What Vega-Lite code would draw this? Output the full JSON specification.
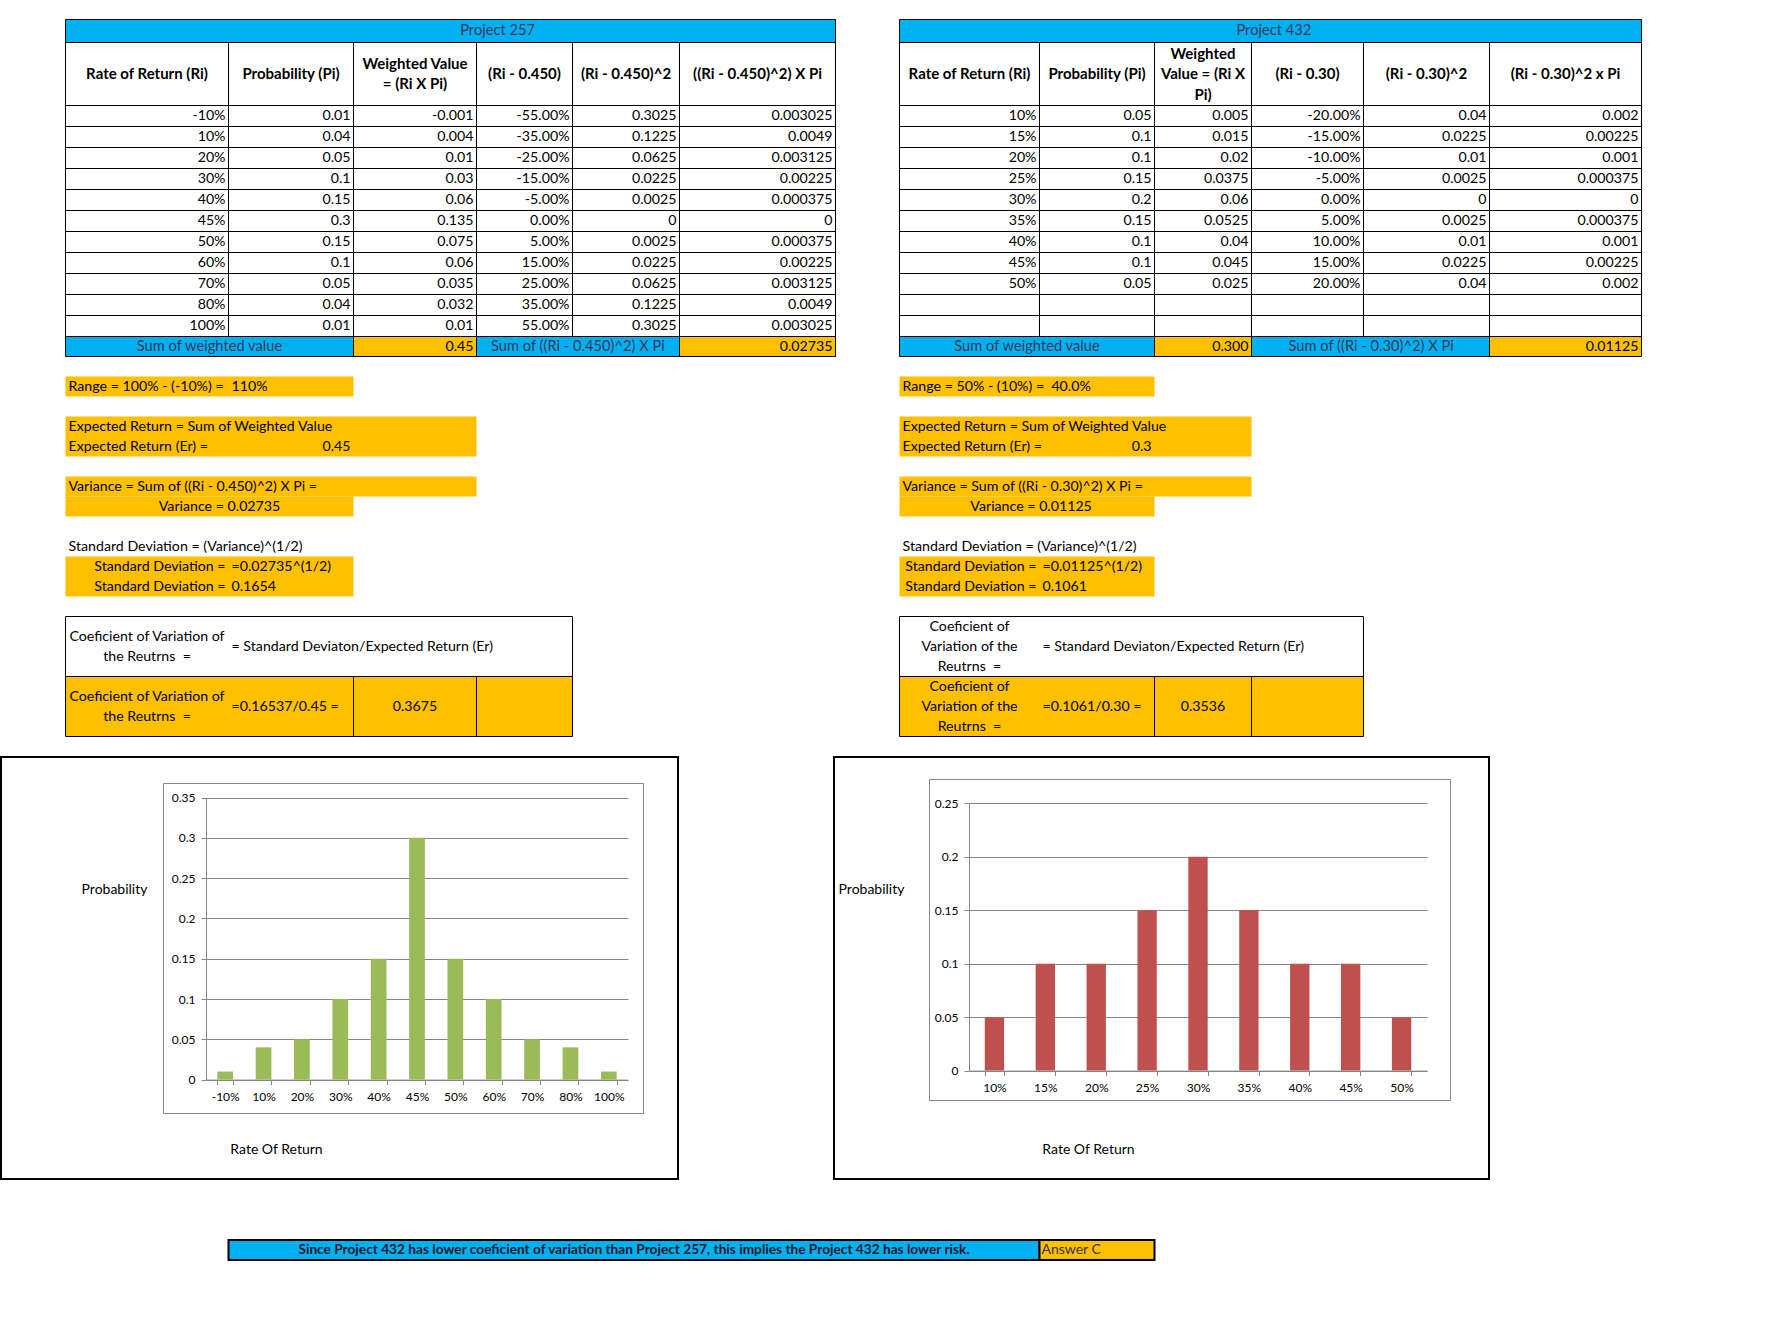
{
"$schema": "https://vega.github.io/schema/vega-lite/v6.json",
"padding": 0,
"background": "#ffffff",
"spacing": 0,
"config": {"view": {"stroke": null}, "font": "Lato"},
"datasets": {
"cells": [
{"c":2,"ce":8,"r":2,"re":3,"k":"title"},{"c":9,"ce":15,"r":2,"re":3,"k":"title"},
{"c":2,"ce":3,"r":3,"re":15,"k":"grid"},{"c":3,"ce":4,"r":3,"re":15,"k":"grid"},{"c":4,"ce":5,"r":3,"re":15,"k":"grid"},{"c":5,"ce":6,"r":3,"re":15,"k":"grid"},{"c":6,"ce":7,"r":3,"re":15,"k":"grid"},{"c":7,"ce":8,"r":3,"re":15,"k":"grid"},
{"c":2,"ce":8,"r":3,"re":4,"k":"grid"},{"c":2,"ce":8,"r":4,"re":5,"k":"grid"},{"c":2,"ce":8,"r":5,"re":6,"k":"grid"},{"c":2,"ce":8,"r":6,"re":7,"k":"grid"},{"c":2,"ce":8,"r":7,"re":8,"k":"grid"},{"c":2,"ce":8,"r":8,"re":9,"k":"grid"},{"c":2,"ce":8,"r":9,"re":10,"k":"grid"},{"c":2,"ce":8,"r":10,"re":11,"k":"grid"},{"c":2,"ce":8,"r":11,"re":12,"k":"grid"},{"c":2,"ce":8,"r":12,"re":13,"k":"grid"},{"c":2,"ce":8,"r":13,"re":14,"k":"grid"},{"c":2,"ce":8,"r":14,"re":15,"k":"grid"},
{"c":9,"ce":10,"r":3,"re":15,"k":"grid"},{"c":10,"ce":11,"r":3,"re":15,"k":"grid"},{"c":11,"ce":12,"r":3,"re":15,"k":"grid"},{"c":12,"ce":13,"r":3,"re":15,"k":"grid"},{"c":13,"ce":14,"r":3,"re":15,"k":"grid"},{"c":14,"ce":15,"r":3,"re":15,"k":"grid"},
{"c":9,"ce":15,"r":3,"re":4,"k":"grid"},{"c":9,"ce":15,"r":4,"re":5,"k":"grid"},{"c":9,"ce":15,"r":5,"re":6,"k":"grid"},{"c":9,"ce":15,"r":6,"re":7,"k":"grid"},{"c":9,"ce":15,"r":7,"re":8,"k":"grid"},{"c":9,"ce":15,"r":8,"re":9,"k":"grid"},{"c":9,"ce":15,"r":9,"re":10,"k":"grid"},{"c":9,"ce":15,"r":10,"re":11,"k":"grid"},{"c":9,"ce":15,"r":11,"re":12,"k":"grid"},{"c":9,"ce":15,"r":12,"re":13,"k":"grid"},{"c":9,"ce":15,"r":13,"re":14,"k":"grid"},{"c":9,"ce":15,"r":14,"re":15,"k":"grid"},
{"c":2,"ce":4,"r":15,"re":16,"k":"sumlabel"},{"c":4,"ce":5,"r":15,"re":16,"k":"sumvalue"},{"c":5,"ce":7,"r":15,"re":16,"k":"sumlabel"},{"c":7,"ce":8,"r":15,"re":16,"k":"sumvalue"},
{"c":9,"ce":11,"r":15,"re":16,"k":"sumlabel"},{"c":11,"ce":12,"r":15,"re":16,"k":"sumvalue"},{"c":12,"ce":14,"r":15,"re":16,"k":"sumlabel"},{"c":14,"ce":15,"r":15,"re":16,"k":"sumvalue"},
{"c":2,"ce":4,"r":17,"re":18,"k":"note"},{"c":2,"ce":5,"r":19,"re":21,"k":"note"},{"c":2,"ce":5,"r":22,"re":23,"k":"note"},{"c":2,"ce":4,"r":23,"re":24,"k":"note"},{"c":2,"ce":4,"r":26,"re":28,"k":"note"},
{"c":9,"ce":11,"r":17,"re":18,"k":"note"},{"c":9,"ce":12,"r":19,"re":21,"k":"note"},{"c":9,"ce":12,"r":22,"re":23,"k":"note"},{"c":9,"ce":11,"r":23,"re":24,"k":"note"},{"c":9,"ce":11,"r":26,"re":28,"k":"note"},
{"c":2,"ce":6,"r":29,"re":32,"k":"boxtop"},{"c":2,"ce":4,"r":32,"re":35,"k":"boxbottom"},{"c":4,"ce":5,"r":32,"re":35,"k":"boxbottom"},{"c":5,"ce":6,"r":32,"re":35,"k":"boxbottom"},
{"c":9,"ce":13,"r":29,"re":32,"k":"boxtop"},{"c":9,"ce":11,"r":32,"re":35,"k":"boxbottom"},{"c":11,"ce":12,"r":32,"re":35,"k":"boxbottom"},{"c":12,"ce":13,"r":32,"re":35,"k":"boxbottom"}
],
"textRight": [
{"c":3,"r":4.5,"t":"-10%"},{"c":4,"r":4.5,"t":"0.01"},{"c":5,"r":4.5,"t":"-0.001"},{"c":6,"r":4.5,"t":"-55.00%"},{"c":7,"r":4.5,"t":"0.3025"},{"c":8,"r":4.5,"t":"0.003025"},
{"c":3,"r":5.5,"t":"10%"},{"c":4,"r":5.5,"t":"0.04"},{"c":5,"r":5.5,"t":"0.004"},{"c":6,"r":5.5,"t":"-35.00%"},{"c":7,"r":5.5,"t":"0.1225"},{"c":8,"r":5.5,"t":"0.0049"},
{"c":3,"r":6.5,"t":"20%"},{"c":4,"r":6.5,"t":"0.05"},{"c":5,"r":6.5,"t":"0.01"},{"c":6,"r":6.5,"t":"-25.00%"},{"c":7,"r":6.5,"t":"0.0625"},{"c":8,"r":6.5,"t":"0.003125"},
{"c":3,"r":7.5,"t":"30%"},{"c":4,"r":7.5,"t":"0.1"},{"c":5,"r":7.5,"t":"0.03"},{"c":6,"r":7.5,"t":"-15.00%"},{"c":7,"r":7.5,"t":"0.0225"},{"c":8,"r":7.5,"t":"0.00225"},
{"c":3,"r":8.5,"t":"40%"},{"c":4,"r":8.5,"t":"0.15"},{"c":5,"r":8.5,"t":"0.06"},{"c":6,"r":8.5,"t":"-5.00%"},{"c":7,"r":8.5,"t":"0.0025"},{"c":8,"r":8.5,"t":"0.000375"},
{"c":3,"r":9.5,"t":"45%"},{"c":4,"r":9.5,"t":"0.3"},{"c":5,"r":9.5,"t":"0.135"},{"c":6,"r":9.5,"t":"0.00%"},{"c":7,"r":9.5,"t":"0"},{"c":8,"r":9.5,"t":"0"},
{"c":3,"r":10.5,"t":"50%"},{"c":4,"r":10.5,"t":"0.15"},{"c":5,"r":10.5,"t":"0.075"},{"c":6,"r":10.5,"t":"5.00%"},{"c":7,"r":10.5,"t":"0.0025"},{"c":8,"r":10.5,"t":"0.000375"},
{"c":3,"r":11.5,"t":"60%"},{"c":4,"r":11.5,"t":"0.1"},{"c":5,"r":11.5,"t":"0.06"},{"c":6,"r":11.5,"t":"15.00%"},{"c":7,"r":11.5,"t":"0.0225"},{"c":8,"r":11.5,"t":"0.00225"},
{"c":3,"r":12.5,"t":"70%"},{"c":4,"r":12.5,"t":"0.05"},{"c":5,"r":12.5,"t":"0.035"},{"c":6,"r":12.5,"t":"25.00%"},{"c":7,"r":12.5,"t":"0.0625"},{"c":8,"r":12.5,"t":"0.003125"},
{"c":3,"r":13.5,"t":"80%"},{"c":4,"r":13.5,"t":"0.04"},{"c":5,"r":13.5,"t":"0.032"},{"c":6,"r":13.5,"t":"35.00%"},{"c":7,"r":13.5,"t":"0.1225"},{"c":8,"r":13.5,"t":"0.0049"},
{"c":3,"r":14.5,"t":"100%"},{"c":4,"r":14.5,"t":"0.01"},{"c":5,"r":14.5,"t":"0.01"},{"c":6,"r":14.5,"t":"55.00%"},{"c":7,"r":14.5,"t":"0.3025"},{"c":8,"r":14.5,"t":"0.003025"},
{"c":10,"r":4.5,"t":"10%"},{"c":11,"r":4.5,"t":"0.05"},{"c":12,"r":4.5,"t":"0.005"},{"c":13,"r":4.5,"t":"-20.00%"},{"c":14,"r":4.5,"t":"0.04"},{"c":15,"r":4.5,"t":"0.002"},
{"c":10,"r":5.5,"t":"15%"},{"c":11,"r":5.5,"t":"0.1"},{"c":12,"r":5.5,"t":"0.015"},{"c":13,"r":5.5,"t":"-15.00%"},{"c":14,"r":5.5,"t":"0.0225"},{"c":15,"r":5.5,"t":"0.00225"},
{"c":10,"r":6.5,"t":"20%"},{"c":11,"r":6.5,"t":"0.1"},{"c":12,"r":6.5,"t":"0.02"},{"c":13,"r":6.5,"t":"-10.00%"},{"c":14,"r":6.5,"t":"0.01"},{"c":15,"r":6.5,"t":"0.001"},
{"c":10,"r":7.5,"t":"25%"},{"c":11,"r":7.5,"t":"0.15"},{"c":12,"r":7.5,"t":"0.0375"},{"c":13,"r":7.5,"t":"-5.00%"},{"c":14,"r":7.5,"t":"0.0025"},{"c":15,"r":7.5,"t":"0.000375"},
{"c":10,"r":8.5,"t":"30%"},{"c":11,"r":8.5,"t":"0.2"},{"c":12,"r":8.5,"t":"0.06"},{"c":13,"r":8.5,"t":"0.00%"},{"c":14,"r":8.5,"t":"0"},{"c":15,"r":8.5,"t":"0"},
{"c":10,"r":9.5,"t":"35%"},{"c":11,"r":9.5,"t":"0.15"},{"c":12,"r":9.5,"t":"0.0525"},{"c":13,"r":9.5,"t":"5.00%"},{"c":14,"r":9.5,"t":"0.0025"},{"c":15,"r":9.5,"t":"0.000375"},
{"c":10,"r":10.5,"t":"40%"},{"c":11,"r":10.5,"t":"0.1"},{"c":12,"r":10.5,"t":"0.04"},{"c":13,"r":10.5,"t":"10.00%"},{"c":14,"r":10.5,"t":"0.01"},{"c":15,"r":10.5,"t":"0.001"},
{"c":10,"r":11.5,"t":"45%"},{"c":11,"r":11.5,"t":"0.1"},{"c":12,"r":11.5,"t":"0.045"},{"c":13,"r":11.5,"t":"15.00%"},{"c":14,"r":11.5,"t":"0.0225"},{"c":15,"r":11.5,"t":"0.00225"},
{"c":10,"r":12.5,"t":"50%"},{"c":11,"r":12.5,"t":"0.05"},{"c":12,"r":12.5,"t":"0.025"},{"c":13,"r":12.5,"t":"20.00%"},{"c":14,"r":12.5,"t":"0.04"},{"c":15,"r":12.5,"t":"0.002"},
{"c":5,"r":15.5,"t":"0.45"},{"c":8,"r":15.5,"t":"0.02735"},{"c":12,"r":15.5,"t":"0.300"},{"c":15,"r":15.5,"t":"0.01125"},
{"c":4,"r":20.5,"t":"0.45"},{"c":11,"r":20.5,"t":"0.3"},
{"c":3,"r":26.5,"t":"Standard Deviation ="},{"c":3,"r":27.5,"t":"Standard Deviation ="},{"c":10,"r":26.5,"t":"Standard Deviation ="},{"c":10,"r":27.5,"t":"Standard Deviation ="}
],
"textLeft": [
{"c":2,"r":17.5,"t":"Range = 100% - (-10%) ="},{"c":3,"r":17.5,"t":"110%"},
{"c":2,"r":19.5,"t":"Expected Return = Sum of Weighted Value"},{"c":2,"r":20.5,"t":"Expected Return (Er) ="},
{"c":2,"r":22.5,"t":"Variance = Sum of ((Ri - 0.450)^2) X Pi ="},
{"c":2,"r":25.5,"t":"Standard Deviation = (Variance)^(1/2)"},
{"c":3,"r":26.5,"t":"=0.02735^(1/2)"},{"c":3,"r":27.5,"t":"0.1654"},
{"c":3,"r":30.5,"t":"= Standard Deviaton/Expected Return (Er)"},{"c":3,"r":33.5,"t":"=0.16537/0.45 ="},
{"c":9,"r":17.5,"t":"Range = 50% - (10%) = \u00a040.0%"},
{"c":9,"r":19.5,"t":"Expected Return = Sum of Weighted Value"},{"c":9,"r":20.5,"t":"Expected Return (Er) ="},
{"c":9,"r":22.5,"t":"Variance = Sum of ((Ri - 0.30)^2) X Pi ="},
{"c":9,"r":25.5,"t":"Standard Deviation = (Variance)^(1/2)"},
{"c":10,"r":26.5,"t":"=0.01125^(1/2)"},{"c":10,"r":27.5,"t":"0.1061"},
{"c":10,"r":30.5,"t":"= Standard Deviaton/Expected Return (Er)"},{"c":10,"r":33.5,"t":"=0.1061/0.30 ="}
],
"textCenter": [
{"c":2.945,"r":23.5,"t":"Variance = 0.02735"},{"c":9.94,"r":23.5,"t":"Variance = 0.01125"},
{"c":4.5,"r":33.5,"t":"0.3675"},{"c":11.5,"r":33.5,"t":"0.3536"}
],
"textCenter2": [
{"c":2.5,"r":30.5,"t":"Coeficient of Variation of\nthe Reutrns \u00a0="},{"c":2.5,"r":33.5,"t":"Coeficient of Variation of\nthe Reutrns \u00a0="}
],
"textCenter3": [
{"c":9.5,"r":30.5,"t":"Coeficient of\nVariation of the\nReutrns \u00a0="},{"c":9.5,"r":33.5,"t":"Coeficient of\nVariation of the\nReutrns \u00a0="}
],
"textHeader": [
{"c":2.5,"r":3.5,"t":"Rate of Return (Ri)"},{"c":3.5,"r":3.5,"t":"Probability (Pi)"},{"c":5.5,"r":3.5,"t":"(Ri - 0.450)"},{"c":6.5,"r":3.5,"t":"(Ri - 0.450)^2"},{"c":7.5,"r":3.5,"t":"((Ri - 0.450)^2) X Pi"},
{"c":9.5,"r":3.5,"t":"Rate of Return (Ri)"},{"c":10.5,"r":3.5,"t":"Probability (Pi)"},{"c":12.5,"r":3.5,"t":"(Ri - 0.30)"},{"c":13.5,"r":3.5,"t":"(Ri - 0.30)^2"},{"c":14.5,"r":3.5,"t":"(Ri - 0.30)^2 x Pi"}
],
"textHeader2": [
{"c":4.5,"r":3.5,"t":"Weighted Value\n= (Ri X Pi)"}
],
"textHeader3": [
{"c":11.5,"r":3.5,"t":"Weighted\nValue = (Ri X\nPi)"}
],
"textBlue": [
{"c":5.22,"r":2.5,"t":"Project 257"},{"c":12.2,"r":2.5,"t":"Project 432"},
{"c":2.883,"r":15.5,"t":"Sum of weighted value"},{"c":6.05,"r":15.5,"t":"Sum of ((Ri - 0.450)^2) X Pi"},
{"c":9.91,"r":15.5,"t":"Sum of weighted value"},{"c":13.06,"r":15.5,"t":"Sum of ((Ri - 0.30)^2) X Pi"}
],
"footCells": [
{"c":3,"ce":10,"r":60,"re":61,"k":"conclusion"},{"c":10,"ce":11,"r":60,"re":61,"k":"answer"}
],
"footConclusion": [
{"c":6.575,"r":60.5,"t":"Since Project 432 has lower coeficient of variation than Project 257, this implies the Project 432 has lower risk."}
],
"footAnswer": [
{"c":10,"r":60.5,"t":"Answer C"}
],
"project257": [
{"rate":"-10%","prob":0.01},{"rate":"10%","prob":0.04},{"rate":"20%","prob":0.05},{"rate":"30%","prob":0.1},{"rate":"40%","prob":0.15},{"rate":"45%","prob":0.3},{"rate":"50%","prob":0.15},{"rate":"60%","prob":0.1},{"rate":"70%","prob":0.05},{"rate":"80%","prob":0.04},{"rate":"100%","prob":0.01}
],
"project432": [
{"rate":"10%","prob":0.05},{"rate":"15%","prob":0.1},{"rate":"20%","prob":0.1},{"rate":"25%","prob":0.15},{"rate":"30%","prob":0.2},{"rate":"35%","prob":0.15},{"rate":"40%","prob":0.1},{"rate":"45%","prob":0.1},{"rate":"50%","prob":0.05}
]
},
"vconcat": [
{
"width": 1769, "height": 756,
"encoding": {
"x": {"field": "c", "type": "quantitative", "axis": null, "scale": {"type": "linear", "nice": false, "zero": false, "domain": [1,2,3,4,5,6,7,8,9,10,11,12,13,14,15,16], "range": [0.5,64.5,227.5,352.5,475.5,571.5,678.5,834.5,898.5,1038.5,1153.5,1250.5,1362.5,1488.5,1640.5,1769]}},
"y": {"field": "r", "type": "quantitative", "axis": null, "scale": {"type": "linear", "nice": false, "zero": false, "domain": [1,2,3,4,15,16,36], "range": [0.5,19.5,42.5,105.5,336.5,356.5,756.5]}}
},
"layer": [
{"data": {"name": "cells"}, "transform": [{"filter": "datum.k == 'note'"}],
 "mark": {"type": "rect"},
 "encoding": {"x2": {"field": "ce"}, "y2": {"field": "re"},
  "fill": {"field": "k", "type": "nominal", "legend": null, "scale": {"domain": ["title","sumlabel","sumvalue","note","boxtop","boxbottom","grid","conclusion","answer"], "range": ["#00B0F0","#00B0F0","#FFC000","#FFC000","#FFFFFF","#FFC000","transparent","#00B0F0","#FFC000"]}}}},
{"data": {"name": "cells"}, "transform": [{"filter": "datum.k != 'note'"}],
 "mark": {"type": "rect", "stroke": "#000000", "strokeWidth": 1},
 "encoding": {"x2": {"field": "ce"}, "y2": {"field": "re"},
  "fill": {"field": "k", "type": "nominal", "legend": null, "scale": {"domain": ["title","sumlabel","sumvalue","note","boxtop","boxbottom","grid","conclusion","answer"], "range": ["#00B0F0","#00B0F0","#FFC000","#FFC000","#FFFFFF","#FFC000","transparent","#00B0F0","#FFC000"]}}}},
{"data": {"name": "textRight"},
 "mark": {"type": "text", "align": "right", "baseline": "middle", "dx": -3, "fontSize": 14.2, "color": "#000000"},
 "encoding": {"text": {"field": "t", "type": "nominal"}}},
{"data": {"name": "textLeft"},
 "mark": {"type": "text", "align": "left", "baseline": "middle", "dx": 3, "fontSize": 14.2, "color": "#000000"},
 "encoding": {"text": {"field": "t", "type": "nominal"}}},
{"data": {"name": "textCenter"},
 "mark": {"type": "text", "align": "center", "baseline": "middle", "fontSize": 14.2, "color": "#000000"},
 "encoding": {"text": {"field": "t", "type": "nominal"}}},
{"data": {"name": "textCenter2"},
 "mark": {"type": "text", "align": "center", "baseline": "middle", "dy": -10, "fontSize": 14.2, "color": "#000000", "lineBreak": "\n", "lineHeight": 20},
 "encoding": {"text": {"field": "t", "type": "nominal"}}},
{"data": {"name": "textCenter3"},
 "mark": {"type": "text", "align": "center", "baseline": "middle", "dy": -20, "fontSize": 14.2, "color": "#000000", "lineBreak": "\n", "lineHeight": 20},
 "encoding": {"text": {"field": "t", "type": "nominal"}}},
{"data": {"name": "textHeader"},
 "mark": {"type": "text", "align": "center", "baseline": "middle", "fontSize": 15, "fontWeight": "bold", "color": "#000000"},
 "encoding": {"text": {"field": "t", "type": "nominal"}}},
{"data": {"name": "textHeader2"},
 "mark": {"type": "text", "align": "center", "baseline": "middle", "dy": -10.25, "fontSize": 15, "fontWeight": "bold", "color": "#000000", "lineBreak": "\n", "lineHeight": 20.5},
 "encoding": {"text": {"field": "t", "type": "nominal"}}},
{"data": {"name": "textHeader3"},
 "mark": {"type": "text", "align": "center", "baseline": "middle", "dy": -20.5, "fontSize": 15, "fontWeight": "bold", "color": "#000000", "lineBreak": "\n", "lineHeight": 20.5},
 "encoding": {"text": {"field": "t", "type": "nominal"}}},
{"data": {"name": "textBlue"},
 "mark": {"type": "text", "align": "center", "baseline": "middle", "fontSize": 14.7, "color": "#3a3a5a"},
 "encoding": {"text": {"field": "t", "type": "nominal"}}}
]
},
{
"hconcat": [
{
"width": 677, "height": 422,
"view": {"stroke": "#000000", "strokeWidth": 2},
"resolve": {"scale": {"x": "independent"}},
"layer": [
{"data": {"name": "project257"},
 "mark": {"type": "bar", "color": "#9BBB59"},
 "encoding": {
 "x": {"field": "rate", "type": "ordinal", "sort": null,
  "scale": {"range": [205, 627], "paddingInner": 0.59, "paddingOuter": 0.295},
  "axis": {"orient": "bottom", "offset": -99.4, "tickBand": "extent", "labelAngle": 0, "labelFontSize": 12, "labelColor": "#000000", "labelPadding": 7, "tickSize": 5, "tickColor": "#868686", "domainColor": "#868686", "grid": false,
   "title": "Rate Of Return", "titleFontSize": 14, "titleFontWeight": "normal", "titleColor": "#000000", "titleX": 275, "titleY": 69.4, "titleAlign": "center", "titleBaseline": "middle"}},
 "y": {"field": "prob", "type": "quantitative",
  "scale": {"domain": [0, 0.35], "range": [322.6, 40.5], "nice": false},
  "axis": {"orient": "left", "offset": -205, "values": [0,0.05,0.1,0.15,0.2,0.25,0.3,0.35], "format": ".2~f", "labelFontSize": 12, "labelColor": "#000000", "labelPadding": 6, "tickSize": 5, "tickColor": "#868686", "domainColor": "#868686", "grid": true, "gridColor": "#868686", "gridOpacity": 1,
   "title": "Probability", "titleAngle": 0, "titleFontSize": 14, "titleFontWeight": "normal", "titleColor": "#000000", "titleX": -92, "titleY": 132, "titleAlign": "center", "titleBaseline": "middle"}}
 }},
{"data": {"values": [{}]},
 "mark": {"type": "rect", "fill": "transparent", "stroke": "#868686", "strokeWidth": 1},
 "encoding": {
  "x": {"datum": 0, "type": "quantitative", "scale": {"domain": [0, 1], "range": [162.5, 642.5]}, "axis": null},
  "x2": {"datum": 1},
  "y": {"datum": 0.3674, "type": "quantitative"},
  "y2": {"datum": -0.0421}}}
]
},
{
"width": 655, "height": 422,
"view": {"stroke": "#000000", "strokeWidth": 2},
"resolve": {"scale": {"x": "independent"}},
"layer": [
{"data": {"name": "project432"},
 "mark": {"type": "bar", "color": "#C0504D"},
 "encoding": {
 "x": {"field": "rate", "type": "ordinal", "sort": null,
  "scale": {"range": [135, 593], "paddingInner": 0.62, "paddingOuter": 0.31},
  "axis": {"orient": "bottom", "offset": -108.4, "tickBand": "extent", "labelAngle": 0, "labelFontSize": 12, "labelColor": "#000000", "labelPadding": 7, "tickSize": 5, "tickColor": "#868686", "domainColor": "#868686", "grid": false,
   "title": "Rate Of Return", "titleFontSize": 14, "titleFontWeight": "normal", "titleColor": "#000000", "titleX": 254, "titleY": 78.4, "titleAlign": "center", "titleBaseline": "middle"}},
 "y": {"field": "prob", "type": "quantitative",
  "scale": {"domain": [0, 0.25], "range": [313.6, 46.3], "nice": false},
  "axis": {"orient": "left", "offset": -135, "values": [0,0.05,0.1,0.15,0.2,0.25], "format": ".2~f", "labelFontSize": 12, "labelColor": "#000000", "labelPadding": 6, "tickSize": 5, "tickColor": "#868686", "domainColor": "#868686", "grid": true, "gridColor": "#868686", "gridOpacity": 1,
   "title": "Probability", "titleAngle": 0, "titleFontSize": 14, "titleFontWeight": "normal", "titleColor": "#000000", "titleX": -98, "titleY": 132, "titleAlign": "center", "titleBaseline": "middle"}}
 }},
{"data": {"values": [{}]},
 "mark": {"type": "rect", "fill": "transparent", "stroke": "#868686", "strokeWidth": 1},
 "encoding": {
  "x": {"datum": 0, "type": "quantitative", "scale": {"domain": [0, 1], "range": [95.5, 616.5]}, "axis": null},
  "x2": {"datum": 1},
  "y": {"datum": 0.2723, "type": "quantitative"},
  "y2": {"datum": -0.028}}}
]
}
],
"spacing": 156,
"bounds": "flush"
},
{
"width": 1769, "height": 143,
"encoding": {
"x": {"field": "c", "type": "quantitative", "axis": null, "scale": {"type": "linear", "nice": false, "zero": false, "domain": [1,2,3,4,5,6,7,8,9,10,11,12,13,14,15,16], "range": [0.5,64.5,227.5,352.5,475.5,571.5,678.5,834.5,898.5,1038.5,1153.5,1250.5,1362.5,1488.5,1640.5,1769]}},
"y": {"field": "r", "type": "quantitative", "axis": null, "scale": {"type": "linear", "nice": false, "zero": false, "domain": [57, 64.15], "range": [0, 143]}}
},
"layer": [
{"data": {"name": "footCells"},
 "mark": {"type": "rect", "stroke": "#000000", "strokeWidth": 2},
 "encoding": {"x2": {"field": "ce"}, "y2": {"field": "re"},
  "fill": {"field": "k", "type": "nominal", "legend": null, "scale": {"domain": ["title","sumlabel","sumvalue","note","boxtop","boxbottom","grid","conclusion","answer"], "range": ["#00B0F0","#00B0F0","#FFC000","#FFC000","#FFFFFF","#FFC000","transparent","#00B0F0","#FFC000"]}}}},
{"data": {"name": "footConclusion"},
 "mark": {"type": "text", "align": "center", "baseline": "middle", "fontSize": 13.7, "fontWeight": "bold", "color": "#1a1a2e"},
 "encoding": {"text": {"field": "t", "type": "nominal"}}},
{"data": {"name": "footAnswer"},
 "mark": {"type": "text", "align": "left", "baseline": "middle", "dx": 2, "fontSize": 14, "color": "#333333"},
 "encoding": {"text": {"field": "t", "type": "nominal"}}}
]
}
]
}
